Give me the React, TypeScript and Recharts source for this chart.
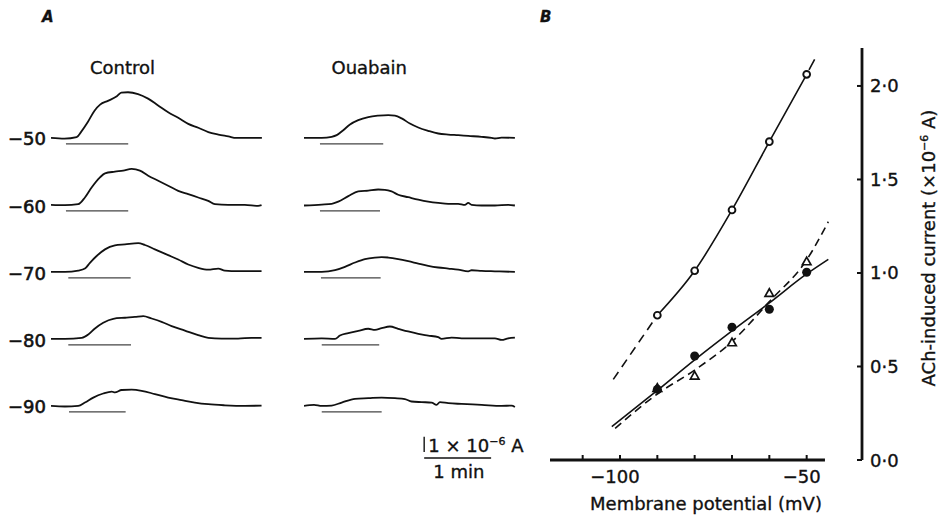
import React from 'react';
import { LineChart, Line, XAxis, YAxis, ComposedChart, Scatter, ReferenceLine, Label } from 'recharts';

const FONT = '"DejaVu Sans", "Liberation Sans", sans-serif';
const INK = '#111';
const TXT_STROKE = 0.35;

// ---------- Panel A: current traces (t in s, current in 1e-6 A) ----------
const rowPotentials = [-50, -60, -70, -80, -90];
const conditionNames = ['Control', 'Ouabain'];

const control50 = [[0,0],[12,-0.05],[23,0.05],[27,0.4],[33,1.05],[39,1.8],[44,2.2],[51,2.45],[59,2.75],[63,3.0],[69,3.02],[78,2.9],[87,2.6],[96,2.15],[105,1.7],[114,1.33],[123,0.93],[132,0.67],[141,0.38],[150,0.22],[159,0.1],[166,0],[177,0],[189,0]];
const control60 = [[0,0],[12.5,-0.02],[24.4,0.05],[30.4,0.49],[36.4,1.15],[43.9,1.82],[48.4,2.09],[57.3,2.2],[64.7,2.27],[72.3,2.38],[79.7,2.27],[87.1,1.93],[96.1,1.6],[105,1.27],[114,0.93],[123,0.71],[131.9,0.49],[140.9,0.27],[146.9,0.05],[158.8,0],[173.7,0],[185.6,-0.07],[188.7,-0.02]];
const control70 = [[0,0],[12.5,0],[24.4,0.09],[30.4,0.22],[34.9,0.6],[40.9,1.05],[48.4,1.49],[57.3,1.75],[66.3,1.82],[78.2,1.91],[84.2,1.78],[93.1,1.49],[105,1.11],[114,0.82],[123,0.49],[131.9,0.27],[140.9,0.15],[149.9,0.22],[155.8,0.09],[167.7,0.05],[188.7,0.05]];
const control80 = [[0,0],[12.5,0],[27.5,0.07],[33.4,0.29],[39.4,0.69],[46.8,1.07],[55.8,1.33],[66.3,1.4],[75.2,1.45],[82.7,1.51],[90.2,1.35],[99.1,1.13],[108.1,0.85],[120,0.55],[131.9,0.25],[140.9,0.07],[152.9,0.02],[167.7,0.02],[179.7,0.07],[188.7,0.07]];
const control90 = [[0,0],[12.5,-0.04],[24.4,0],[30.4,0.22],[37.9,0.55],[46.8,0.82],[54.4,0.95],[57.3,0.89],[63.3,1.05],[72.3,1.07],[81.2,1.0],[93.1,0.78],[105,0.55],[117,0.38],[128.9,0.22],[140.9,0.11],[155.8,0.04],[173.7,0],[188.7,0.02]];

const ouabain50 = [[0,0],[15.9,0],[24.8,0.07],[29.3,0.18],[35.2,0.51],[41.2,0.89],[48.6,1.18],[57.6,1.38],[66.5,1.47],[75.5,1.51],[81.5,1.47],[87.5,1.29],[94.9,0.95],[102.4,0.69],[111.3,0.47],[120.3,0.29],[129.3,0.22],[138.2,0.18],[147.2,0.13],[159.2,0.07],[168.1,0],[171.1,-0.04],[177.1,0.02],[189,0]];
const ouabain60 = [[0,-0.04],[15.9,0.02],[24.8,0.07],[30.7,0.22],[39.7,0.58],[48.6,0.89],[57.6,0.95],[66.5,1.02],[72.5,1.0],[78.5,0.89],[84.4,0.67],[93.4,0.51],[102.4,0.35],[111.3,0.22],[120.3,0.13],[129.3,0.07],[138.2,0.07],[144.2,0],[147.2,0.13],[150.2,0],[159.2,-0.04],[171.1,-0.04],[183,0],[189,-0.04]];
const ouabain70 = [[0,0],[15.9,0],[27.8,0.11],[36.7,0.33],[45.7,0.62],[54.6,0.85],[63.6,0.95],[69.6,0.98],[75.5,0.95],[84.4,0.85],[93.4,0.71],[102.4,0.55],[111.3,0.4],[120.3,0.29],[129.3,0.22],[138.2,0.15],[147.2,0.04],[150.2,0.11],[159.2,0.07],[171.1,0.04],[189,0]];
const ouabain80 = [[0,0],[15.9,0.04],[27.8,0],[32.2,0.22],[39.7,0.38],[48.6,0.53],[57.6,0.67],[63.6,0.6],[69.6,0.71],[77,0.82],[84.4,0.67],[93.4,0.49],[102.4,0.33],[111.3,0.22],[120.3,0.11],[123.3,0],[132.3,0.09],[141.2,0.04],[159.2,0.04],[171.1,0.04],[177.1,-0.07],[183,0.04],[189,0.09]];
const ouabain90 = [[0,0],[9,0.07],[15.9,0],[24.8,0.02],[33.8,0.22],[45.7,0.47],[57.6,0.51],[69.6,0.55],[81.5,0.51],[90.4,0.45],[96.4,0.29],[105.4,0.25],[114.4,0.22],[118.8,0.07],[121.8,0.25],[129.3,0.18],[141.2,0.13],[159.2,0.07],[177.1,0],[186,0.02],[189,-0.07]];

const controlTraces = [control50, control60, control70, control80, control90];
const ouabainTraces = [ouabain50, ouabain60, ouabain70, ouabain80, ouabain90];

// ACh application bars (start, end in s)
const controlBars = [[13.4, 69.2], [13.4, 69.2], [15.5, 71.4], [15.5, 71.7], [16.1, 66.9]];
const ouabainBars = [[14.3, 71.0], [14.3, 68.1], [15.2, 68.7], [15.9, 67.4], [15.9, 69.6]];
const barLevel = -0.4;

// calibration: 1e-6 A and 1 min
const scaleCurrent = [[107.7, 0], [107.7, 1]];
const scaleTime = [[107.7, -0.4], [167.7, -0.4]];

// ---------- Panel B ----------
const potentials = [-90, -80, -70, -60, -50];
const controlCurrent = [0.774, 1.012, 1.337, 1.702, 2.062];
const filledCurrent = [0.378, 0.556, 0.71, 0.806, 1.004];
const triangleCurrent = [0.383, 0.449, 0.627, 0.891, 1.06];

const controlFit = [[-90, 0.774], [-80, 1.012], [-70, 1.337], [-60, 1.702], [-50, 2.062]];
const controlExtLow = [[-101.8, 0.431], [-90, 0.774]];
const controlExtHigh = [[-50, 2.062], [-46.6, 2.19]];
const filledFit = [[-102.2, 0.178], [-90, 0.372], [-80, 0.535], [-70, 0.69], [-60, 0.84], [-50, 0.995], [-44.2, 1.073]];
const triangleFit = [[-101.3, 0.169], [-90, 0.353], [-80, 0.481], [-70, 0.633], [-60, 0.847], [-50, 1.07], [-44.2, 1.274]];

const xTicks = [-110, -100, -90, -80, -70, -60, -50];
const xLabelled = [-100, -50];
const yTicks = [0, 0.5, 1.0, 1.5, 2.0];

const toTV = (a: number[][]) => a.map(([t, v]) => ({ t, v }));
const toXY = (a: number[][]) => a.map(([x, y]) => ({ x, y }));
const zipXY = (xs: number[], ys: number[]) => xs.map((x, i) => ({ x, y: ys[i] }));

const T_DOMAIN: [number, number] = [0, 190];
const V_DOMAIN: [number, number] = [-1, 3.5];
const TRACE_W = 212;
const TRACE_H = 68;

function TraceChart({ pts, bar, left, top }: any) {
  const barData = [{ t: bar[0], v: barLevel }, { t: bar[1], v: barLevel }];
  return (
    <div style={{ position: 'absolute', left, top }}>
      <LineChart width={TRACE_W} height={TRACE_H} margin={{ top: 0, right: 0, bottom: 0, left: 0 }}>
        <XAxis type="number" dataKey="t" domain={T_DOMAIN} hide allowDataOverflow />
        <YAxis type="number" dataKey="v" domain={V_DOMAIN} hide allowDataOverflow />
        <Line data={barData} dataKey="v" type="linear" stroke="#444" strokeWidth={1.3} dot={false} activeDot={false} isAnimationActive={false} />
        <Line data={toTV(pts)} dataKey="v" type="monotone" stroke={INK} strokeWidth={1.8} dot={false} activeDot={false} isAnimationActive={false} />
      </LineChart>
    </div>
  );
}

function ScaleChart({ left, top }: any) {
  return (
    <div style={{ position: 'absolute', left, top }}>
      <LineChart width={TRACE_W} height={TRACE_H} margin={{ top: 0, right: 0, bottom: 0, left: 0 }}>
        <XAxis type="number" dataKey="t" domain={T_DOMAIN} hide allowDataOverflow />
        <YAxis type="number" dataKey="v" domain={V_DOMAIN} hide allowDataOverflow />
        <Line data={toTV(scaleCurrent)} dataKey="v" type="linear" stroke={INK} strokeWidth={1.4} dot={false} activeDot={false} isAnimationActive={false} />
        <Line data={toTV(scaleTime)} dataKey="v" type="linear" stroke={INK} strokeWidth={1.4} dot={false} activeDot={false} isAnimationActive={false} />
      </LineChart>
    </div>
  );
}

const fmtMinus = (v: number) => (v < 0 ? '\u2212' + Math.abs(v) : String(v));

const XTick = (props: any) => {
  const { x, y, payload } = props;
  const v = payload.value;
  return (
    <g>
      <line x1={x} y1={y} x2={x} y2={y - 5} stroke={INK} strokeWidth={2} />
      {xLabelled.includes(v) && (
        <text x={x - 5} y={y + 23} textAnchor="middle" fontFamily={FONT} fontSize={18} fill={INK} stroke={INK} strokeWidth={TXT_STROKE}>
          {fmtMinus(v)}
        </text>
      )}
    </g>
  );
};

const YTick = (props: any) => {
  const { x, y, payload } = props;
  const label = Number(payload.value).toFixed(1).replace('.', '\u00B7');
  return (
    <g>
      <line x1={x - 5} y1={y} x2={x} y2={y} stroke={INK} strokeWidth={2} />
      <text x={x + 8} y={y + 6.5} textAnchor="start" fontFamily={FONT} fontSize={18} fill={INK} stroke={INK} strokeWidth={TXT_STROKE}>
        {label}
      </text>
    </g>
  );
};

const XLabelContent = (props: any) => {
  const vb = props.viewBox || { x: 550, y: 460, width: 312, height: 30 };
  return (
    <text x={vb.x + vb.width / 2} y={vb.y + 50} textAnchor="middle" fontFamily={FONT} fontSize={18} fill={INK} stroke={INK} strokeWidth={TXT_STROKE}>
      Membrane potential (mV)
    </text>
  );
};

const YLabelContent = (props: any) => {
  const vb = props.viewBox || { x: 862, y: 48, width: 60, height: 412 };
  const cx = vb.x + 73;
  const cy = vb.y + vb.height / 2 - 6;
  return (
    <text transform={`translate(${cx},${cy}) rotate(-90)`} textAnchor="middle" fontFamily={FONT} fontSize={18} fill={INK} stroke={INK} strokeWidth={TXT_STROKE}>
      ACh-induced current ({'\u00D7'}10
      <tspan dy={-7} fontSize={11}>{'\u22126'}</tspan>
      <tspan dy={7}> A)</tspan>
    </text>
  );
};

const OpenCircle = (p: any) => <circle cx={p.cx} cy={p.cy} r={3.4} fill="#fff" stroke={INK} strokeWidth={1.9} />;
const FilledCircle = (p: any) => <circle cx={p.cx} cy={p.cy} r={4.5} fill={INK} stroke="none" />;
const Triangle = (p: any) => (
  <path
    d={`M${p.cx},${p.cy - 4.6} L${p.cx - 4.3},${p.cy + 3} L${p.cx + 4.3},${p.cy + 3} Z`}
    fill="#fff"
    stroke={INK}
    strokeWidth={1.7}
    strokeLinejoin="miter"
  />
);

function PanelB() {
  return (
    <div style={{ position: 'absolute', left: 530, top: 0 }}>
      <ComposedChart width={412} height={517} margin={{ top: 48, right: 20, bottom: 27, left: 20 }}>
        <XAxis
          type="number"
          dataKey="x"
          domain={[-118.75, -35.18]}
          ticks={xTicks}
          interval={0}
          tick={(p: any) => <XTick {...p} />}
          tickLine={false}
          axisLine={false}
          tickSize={0}
          tickMargin={0}
          height={30}
          allowDataOverflow
        >
          <Label content={XLabelContent} />
        </XAxis>
        <YAxis
          type="number"
          dataKey="y"
          orientation="right"
          domain={[0, 2.203]}
          ticks={yTicks}
          interval={0}
          tick={(p: any) => <YTick {...p} />}
          tickLine={false}
          axisLine={{ stroke: INK, strokeWidth: 2.8 }}
          tickSize={0}
          tickMargin={0}
          width={60}
          allowDataOverflow
        >
          <Label content={YLabelContent} />
        </YAxis>
        <ReferenceLine
          segment={[{ x: -118.75, y: 0 }, { x: -45.1, y: 0 }]}
          stroke={INK}
          strokeWidth={2.8}
          ifOverflow="visible"
        />
        <Line data={toXY(controlExtLow)} dataKey="y" type="linear" stroke={INK} strokeWidth={1.6} strokeDasharray="9 6" dot={false} activeDot={false} isAnimationActive={false} />
        <Line data={toXY(controlFit)} dataKey="y" type="monotone" stroke={INK} strokeWidth={1.6} dot={false} activeDot={false} isAnimationActive={false} />
        <Line data={toXY(controlExtHigh)} dataKey="y" type="linear" stroke={INK} strokeWidth={1.6} strokeDasharray="0 5 12 6" dot={false} activeDot={false} isAnimationActive={false} />
        <Line data={toXY(triangleFit)} dataKey="y" type="monotone" stroke={INK} strokeWidth={1.6} strokeDasharray="8 5" dot={false} activeDot={false} isAnimationActive={false} />
        <Line data={toXY(filledFit)} dataKey="y" type="monotone" stroke={INK} strokeWidth={1.6} dot={false} activeDot={false} isAnimationActive={false} />
        <Scatter data={zipXY(potentials, controlCurrent)} dataKey="y" shape={OpenCircle} isAnimationActive={false} />
        <Scatter data={zipXY(potentials, triangleCurrent)} dataKey="y" shape={Triangle} isAnimationActive={false} />
        <Scatter data={zipXY(potentials, filledCurrent)} dataKey="y" shape={FilledCircle} isAnimationActive={false} />
      </ComposedChart>
    </div>
  );
}

const rowLabelBaselines = [145, 213, 280, 346.7, 413.3];

export default function App() {
  const rowTop = (i: number) => 84.6 + i * 67.2;
  return (
    <div style={{ position: 'absolute', left: 0, top: 0, width: 942, height: 517, background: '#fff', overflow: 'hidden' }}>
      {controlTraces.map((pts, i) => (
        <TraceChart key={'c' + i} pts={pts} bar={controlBars[i]} left={51} top={rowTop(i)} />
      ))}
      {ouabainTraces.map((pts, i) => (
        <TraceChart key={'o' + i} pts={pts} bar={ouabainBars[i]} left={304} top={rowTop(i)} />
      ))}
      <ScaleChart left={304} top={398.8} />
      <PanelB />
      <svg width={942} height={517} style={{ position: 'absolute', left: 0, top: 0, pointerEvents: 'none' }}>
        <g fontFamily={FONT} fill={INK} stroke={INK} strokeWidth={TXT_STROKE}>
          <text x={42} y={22} fontSize={15} fontStyle="italic" fontWeight="bold">A</text>
          <text x={540} y={22} fontSize={15} fontStyle="italic" fontWeight="bold">B</text>
          <text x={90} y={74} fontSize={18}>{conditionNames[0]}</text>
          <text x={331.5} y={74} fontSize={18}>{conditionNames[1]}</text>
          {rowPotentials.map((p, i) => (
            <text key={p} x={8} y={rowLabelBaselines[i]} fontSize={18} strokeWidth={0.6}>{fmtMinus(p)}</text>
          ))}
          <text x={428.3} y={451.7} fontSize={18}>
            1 {'\u00D7'} 10
            <tspan dy={-7} fontSize={11}>{'\u22126'}</tspan>
            <tspan dy={7}> A</tspan>
          </text>
          <text x={433.3} y={478.3} fontSize={18}>1 min</text>
        </g>
      </svg>
    </div>
  );
}
